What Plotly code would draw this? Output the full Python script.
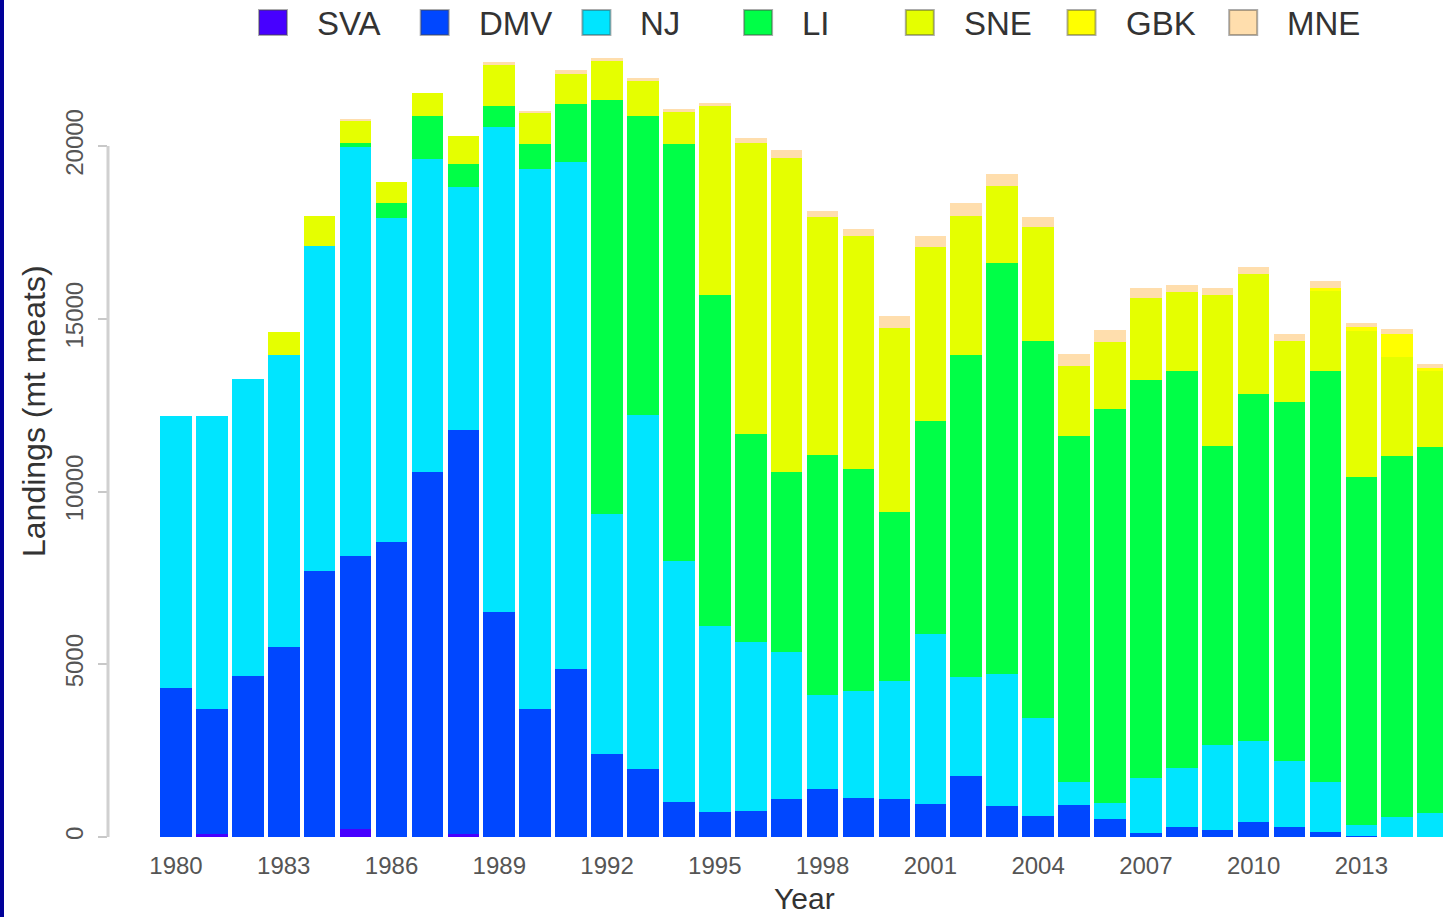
import plotly.graph_objects as go

years = list(range(1980, 2016))
series_names = ["SVA", "DMV", "NJ", "LI", "SNE", "GBK", "MNE"]
series_colors = ["#4700FF", "#0047FF", "#00E5FF", "#00FF47", "#E5FF00", "#FFFF00", "#FFDEAD"]

SVA = [0, 80, 0, 0, 0, 220, 0, 0, 80, 0, 0, 0, 0, 0, 0, 0, 0, 0,
       0, 0, 0, 0, 0, 0, 0, 0, 0, 0, 0, 0, 0, 0, 0, 0, 0, 0]
DMV = [4310, 3625, 4669, 5490, 7690, 7904, 8529, 10564, 11700, 6503, 3705, 4862,
       2402, 1968, 1004, 715, 761, 1100, 1389, 1120, 1100, 955, 1757, 907,
       618, 936, 521, 110, 281, 200, 443, 281, 154, 20, 0, 0]
NJ = [7875, 8480, 8587, 8461, 9415, 11838, 9387, 9069, 7042, 14038, 15629, 14665,
      6947, 10255, 6993, 5383, 4892, 4263, 2721, 3115, 3424, 4921, 2883, 3811,
      2818, 646, 463, 1589, 1716, 2463, 2344, 1927, 1428, 327, 570, 695]
LI = [0, 0, 0, 0, 0, 120, 434, 1226, 657, 626, 724, 1689,
      11982, 8654, 12061, 9589, 6011, 5201, 6946, 6416, 4874, 6156, 9311, 11896,
      10929, 10034, 11404, 11528, 11499, 8663, 10035, 10373, 11914, 10064, 10449, 10584]
SNE = [0, 0, 0, 656, 878, 650, 599, 675, 819, 1206, 917, 868,
       1139, 1013, 936, 5461, 8423, 9079, 6880, 6753, 5326, 5036, 4032, 2237,
       3281, 2026, 1948, 2374, 2278, 4370, 3473, 1784, 2294, 4244, 2866, 2217]
GBK = [0, 0, 0, 0, 0, 0, 0, 0, 0, 0, 0, 0,
       0, 0, 0, 0, 0, 0, 0, 0, 0, 0, 0, 0,
       0, 0, 0, 0, 0, 0, 0, 0, 90, 120, 674, 70]
MNE = [0, 0, 0, 0, 0, 50, 0, 0, 0, 50, 30, 124,
       77, 69, 76, 96, 135, 250, 191, 194, 347, 318, 367, 339,
       290, 338, 348, 289, 212, 184, 194, 194, 204, 100, 144, 124]

series_values = [SVA, DMV, NJ, LI, SNE, GBK, MNE]

x_tick_vals = list(range(1980, 2016, 3))
y_tick_vals = [0, 5000, 10000, 15000, 20000]

# ---- layout geometry (pixels) ----
W, H = 1443, 917
L, R, T, B = 108, 0, 32, 80
PW, PH = W - L - R, H - T - B
PX_PER_YEAR = 35.92
PX_PER_UNIT = 0.03455
x0 = 1980 - (176 - L) / PX_PER_YEAR
x1 = x0 + PW / PX_PER_YEAR
ymax = PH / PX_PER_UNIT


def pxx(px):
    return (px - L) / PW


def pxy(py):
    return (H - B - py) / PH


FONT = "Liberation Sans, Arial, Helvetica, sans-serif"

fig = go.Figure()
for name, vals, col in zip(series_names, series_values, series_colors):
    fig.add_trace(go.Bar(x=years, y=vals, name=name, marker=dict(color=col, line=dict(width=0)),
                         showlegend=False))

shapes = []
annotations = []

# left dark border
shapes.append(dict(type="rect", xref="paper", yref="paper",
                   x0=pxx(0), x1=pxx(4), y0=pxy(H), y1=pxy(0),
                   fillcolor="#000099", line=dict(width=0), layer="above"))

# R-style y axis line spanning 0..20000
shapes.append(dict(type="line", xref="paper", yref="y", x0=pxx(L), x1=pxx(L),
                   y0=y_tick_vals[0], y1=y_tick_vals[-1],
                   line=dict(color="#d0d0d0", width=3)))

# manual legend
for i, (name, col) in enumerate(zip(series_names, series_colors)):
    left = 259 + i * 161.7
    shapes.append(dict(type="rect", xref="paper", yref="paper",
                       x0=pxx(left), x1=pxx(left + 28), y0=pxy(35), y1=pxy(10),
                       fillcolor=col, line=dict(color="rgba(70,70,70,0.45)", width=2)))
    annotations.append(dict(text=name, xref="paper", yref="paper",
                            x=pxx(left + 56), y=pxy(23), xanchor="left", yanchor="middle",
                            showarrow=False, font=dict(family=FONT, size=33, color="#333333")))

# axis titles
annotations.append(dict(text="Landings (mt meats)", xref="paper", yref="paper",
                        x=pxx(34), y=pxy(411), xanchor="center", yanchor="middle",
                        textangle=-90, showarrow=False,
                        font=dict(family=FONT, size=32, color="#333333")))
annotations.append(dict(text="Year", xref="paper", yref="paper",
                        x=pxx(804), y=pxy(898), xanchor="center", yanchor="middle",
                        showarrow=False, font=dict(family=FONT, size=30, color="#333333")))

fig.update_layout(
    width=W, height=H,
    margin=dict(l=L, r=R, t=T, b=B, pad=0),
    barmode="stack", bargap=0.12,
    plot_bgcolor="white", paper_bgcolor="white",
    font=dict(family=FONT, color="#555555"),
    shapes=shapes, annotations=annotations,
    xaxis=dict(range=[x0, x1], tickvals=x_tick_vals, ticktext=[str(v) for v in x_tick_vals],
               ticks="", showgrid=False, zeroline=False, showline=False,
               tickfont=dict(family=FONT, size=24, color="#555555"), ticklabelstandoff=12),
    yaxis=dict(range=[0, ymax], tickvals=y_tick_vals, ticktext=[str(v) for v in y_tick_vals],
               ticks="outside", ticklen=9, tickwidth=2, tickcolor="#c8c8c8",
               showgrid=False, zeroline=False, showline=False, tickangle=-90,
               tickfont=dict(family=FONT, size=24, color="#555555"), ticklabelstandoff=5),
)

fig.write_html("out.html",
               config={"displayModeBar": False},
               post_script="document.body.style.margin='0px';document.body.style.overflow='hidden';")
